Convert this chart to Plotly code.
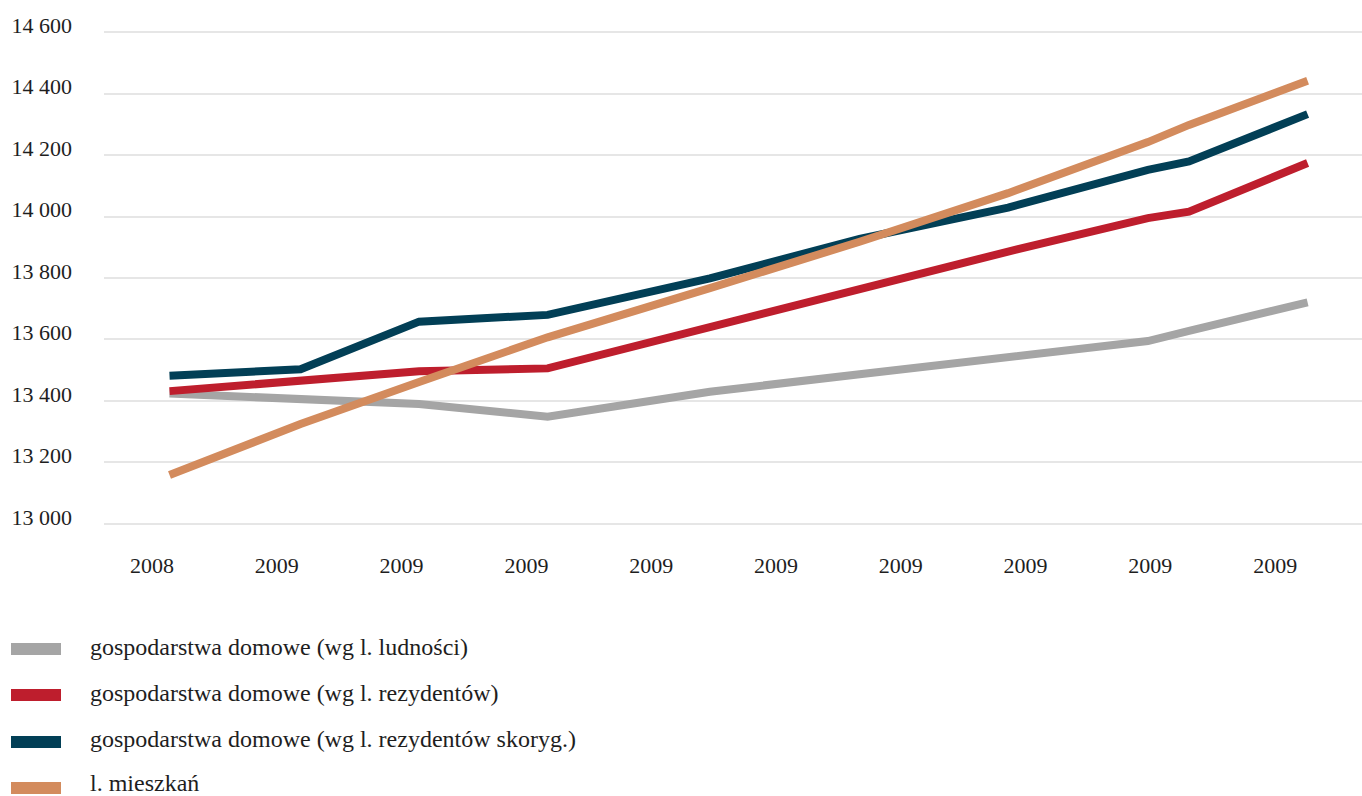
import plotly.graph_objects as go

# Axis tick labels (one label per tick slot)
tick_labels = ["2008", "2009", "2009", "2009", "2009", "2009", "2009", "2009", "2009", "2009"]
tick_slots = list(range(len(tick_labels)))

# Observation positions along the time axis (in tick-slot units)
x_points = [0.14, 1.19, 2.14, 3.17, 4.47, 5.67, 6.86, 7.98, 8.31, 9.26]

# Series values
households_population = [13424, 13407, 13390, 13349, 13430, 13487, 13542, 13595, 13628, 13721]
households_residents = [13432, 13468, 13497, 13506, 13642, 13763, 13886, 13995, 14016, 14174]
households_residents_adj = [13482, 13503, 13658, 13680, 13799, 13927, 14029, 14152, 14179, 14333]
dwellings = [13159, 13325, 13462, 13607, 13767, 13918, 14076, 14242, 14298, 14442]

series_names = [
    "gospodarstwa domowe (wg l. ludności)",
    "gospodarstwa domowe (wg l. rezydentów)",
    "gospodarstwa domowe (wg l. rezydentów skoryg.)",
    "l. mieszkań",
]
series_values = [households_population, households_residents, households_residents_adj, dwellings]
series_colors = ["#a5a5a5", "#be1e2d", "#023f56", "#d38b5d"]

y_ticks = [13000, 13200, 13400, 13600, 13800, 14000, 14200, 14400, 14600]
y_tick_text = ["13 000", "13 200", "13 400", "13 600", "13 800", "14 000", "14 200", "14 400", "14 600"]

FONT = "Liberation Serif"
TEXT_COLOR = "#1e1e1e"

W, H = 1362, 796
M_L, M_R, M_T, M_B = 104, 0, 29, 269

fig = go.Figure()
for name, vals, col in zip(series_names, series_values, series_colors):
    fig.add_trace(go.Scatter(
        x=x_points, y=vals, name=name, mode="lines",
        line=dict(color=col, width=8), showlegend=False,
        hoverinfo="x+y+name",
    ))

# Legend drawn below the plot: colour swatch + label per series
plot_h = H - M_T - M_B
plot_w = W - M_L - M_R
swatch_rows_px = [649, 695, 742, 788]
label_rows_px = [647, 693, 739, 783]
shapes = []
annotations = []
for name, col, py, ty in zip(series_names, series_colors, swatch_rows_px, label_rows_px):
    y0 = (H - M_B - (py + 6)) / plot_h
    y1 = (H - M_B - (py - 6)) / plot_h
    shapes.append(dict(
        type="rect", xref="paper", yref="paper",
        x0=(11 - M_L) / plot_w, x1=(61 - M_L) / plot_w, y0=y0, y1=y1,
        fillcolor=col, line=dict(width=0),
    ))
    annotations.append(dict(
        xref="paper", yref="paper", x=(88 - M_L) / plot_w, y=(H - M_B - ty) / plot_h,
        xanchor="left", yanchor="middle", text=name, showarrow=False,
        font=dict(family=FONT, size=24, color=TEXT_COLOR),
    ))

fig.update_layout(
    width=W, height=H,
    margin=dict(l=M_L, r=M_R, t=M_T, b=M_B),
    paper_bgcolor="white", plot_bgcolor="white",
    font=dict(family=FONT, size=22, color=TEXT_COLOR),
    shapes=shapes, annotations=annotations,
    showlegend=False,
)
fig.update_xaxes(
    range=[-0.385, 9.696],
    tickmode="array", tickvals=tick_slots, ticktext=tick_labels,
    showgrid=False, zeroline=False, showline=False,
    ticks="", ticklabelstandoff=23,
    tickfont=dict(family=FONT, size=22, color=TEXT_COLOR),
)
fig.update_yaxes(
    range=[12990, 14610],
    tickmode="array", tickvals=y_ticks, ticktext=y_tick_text,
    showgrid=True, gridcolor="#e6e6e6", gridwidth=2,
    zeroline=False, showline=False,
    ticks="", ticklabelstandoff=31, ticklabelshift=-7,
    tickfont=dict(family=FONT, size=22, color=TEXT_COLOR),
)

fig.write_html("out.html")
